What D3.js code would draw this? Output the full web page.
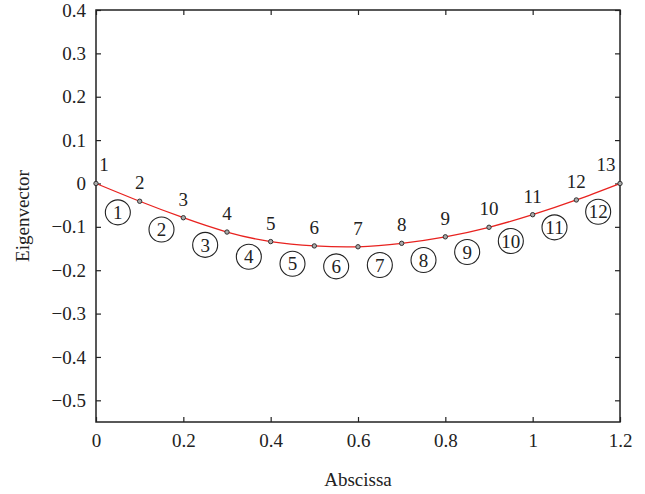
<!DOCTYPE html>
<html>
<head>
<meta charset="utf-8">
<script src="https://cdn.jsdelivr.net/npm/d3@7"></script>
<style>
    body { margin: 0; background: #fff; }
    svg text { font-family: 'Liberation Serif', 'DejaVu Serif', serif; fill: #222; }
    .axis path, .axis line { stroke: #222; }
</style>
</head>
<body>
<svg id="chart"></svg>
<script>
'use strict';

// node abscissae and eigenvector values
var nodeX = [0, 0.1, 0.2, 0.3, 0.4, 0.5, 0.6, 0.7, 0.8, 0.9, 1.0, 1.1, 1.2];
var nodeY = [0, -0.041, -0.079, -0.112, -0.134, -0.144, -0.146, -0.138, -0.123, -0.101, -0.072, -0.038, 0];
var nodeLabels = ['1', '2', '3', '4', '5', '6', '7', '8', '9', '10', '11', '12', '13'];
var elementLabels = ['1', '2', '3', '4', '5', '6', '7', '8', '9', '10', '11', '12'];

var xTicks = [0, 0.2, 0.4, 0.6, 0.8, 1, 1.2];
var yTicks = [0.4, 0.3, 0.2, 0.1, 0, -0.1, -0.2, -0.3, -0.4, -0.5];

var width = 645, height = 494;
var margin = { top: 10, right: 25, bottom: 72, left: 96 };
var innerW = width - margin.left - margin.right,
    innerH = height - margin.top - margin.bottom;
var fontSize = 19;

var svg = d3.select('#chart').attr('width', width).attr('height', height);
var g = svg.append('g').attr('transform', 'translate(' + margin.left + ',' + margin.top + ')');

var x = d3.scaleLinear().domain([0, 1.2]).range([0, innerW]);
var y = d3.scaleLinear().domain([-0.55, 0.4]).range([innerH, 0]);

var fmt = d3.format('~g');

function styleAxis(sel) {
    sel.attr('class', 'axis');
    sel.select('.domain').remove();
    sel.selectAll('line').attr('stroke-width', 1.2);
    sel.selectAll('text').attr('font-size', fontSize);
}

g.append('g').attr('transform', 'translate(0,' + innerH + ')')
    .call(d3.axisBottom(x).tickValues(xTicks).tickFormat(fmt).tickSizeInner(-5).tickSizeOuter(0).tickPadding(12))
    .call(styleAxis);
g.append('g')
    .call(d3.axisTop(x).tickValues(xTicks).tickFormat('').tickSizeInner(-5).tickSizeOuter(0))
    .call(styleAxis);
g.append('g')
    .call(d3.axisLeft(y).tickValues(yTicks).tickFormat(fmt).tickSizeInner(-5).tickSizeOuter(0).tickPadding(10))
    .call(styleAxis);
g.append('g').attr('transform', 'translate(' + innerW + ',0)')
    .call(d3.axisRight(y).tickValues(yTicks).tickFormat('').tickSizeInner(-5).tickSizeOuter(0))
    .call(styleAxis);

// frame
g.append('rect')
    .attr('width', innerW).attr('height', innerH)
    .attr('fill', 'none').attr('stroke', '#222').attr('stroke-width', 1.5);

var pts = nodeX.map(function (d, i) { return { x: d, y: nodeY[i], label: nodeLabels[i] }; });

// eigenvector curve
g.append('path')
    .datum(pts)
    .attr('fill', 'none')
    .attr('stroke', '#e8221f')
    .attr('stroke-width', 1.3)
    .attr('d', d3.line().x(function (d) { return x(d.x); }).y(function (d) { return y(d.y); }).curve(d3.curveNatural));

// nodes
g.selectAll('circle.node')
    .data(pts)
    .enter().append('circle')
    .attr('class', 'node')
    .attr('cx', function (d) { return x(d.x); })
    .attr('cy', function (d) { return y(d.y); })
    .attr('r', 2.2)
    .attr('fill', '#aaa')
    .attr('stroke', '#333')
    .attr('stroke-width', 1);

// node numbers, kept inside the frame
g.selectAll('text.nlabel')
    .data(pts)
    .enter().append('text')
    .attr('class', 'nlabel')
    .attr('x', function (d) { return Math.min(Math.max(x(d.x), 8), innerW - 14); })
    .attr('y', function (d) { return y(d.y) - 12; })
    .attr('text-anchor', 'middle')
    .attr('font-size', fontSize)
    .text(function (d) { return d.label; });

// element numbers in circles
var elems = elementLabels.map(function (l, i) {
    return { x: (nodeX[i] + nodeX[i + 1]) / 2, y: (nodeY[i] + nodeY[i + 1]) / 2, label: l };
});
var eg = g.selectAll('g.elem')
    .data(elems)
    .enter().append('g')
    .attr('class', 'elem')
    .attr('transform', function (d) { return 'translate(' + x(d.x) + ',' + (y(d.y) + 20) + ')'; });
eg.append('circle')
    .attr('r', 12.5)
    .attr('fill', 'none')
    .attr('stroke', '#222')
    .attr('stroke-width', 1.1);
eg.append('text')
    .attr('text-anchor', 'middle')
    .attr('dy', '0.35em')
    .attr('font-size', fontSize)
    .text(function (d) { return d.label; });

// axis titles
svg.append('text')
    .attr('x', margin.left + innerW / 2)
    .attr('y', 486)
    .attr('text-anchor', 'middle')
    .attr('font-size', fontSize)
    .text('Abscissa');
svg.append('text')
    .attr('transform', 'translate(29,' + (margin.top + innerH / 2) + ') rotate(-90)')
    .attr('text-anchor', 'middle')
    .attr('font-size', fontSize)
    .text('Eigenvector');
</script>
</body>
</html>
